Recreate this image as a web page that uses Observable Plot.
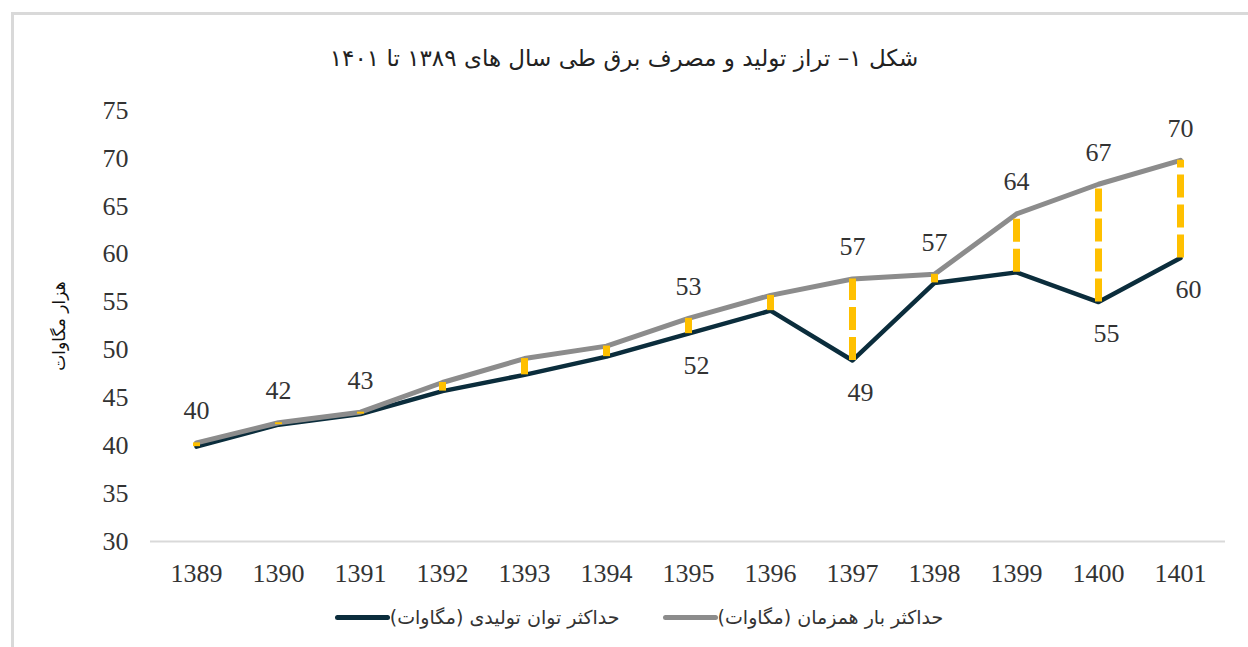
<!DOCTYPE html>
<html>
<head>
<meta charset="utf-8">
<script src="https://cdn.jsdelivr.net/npm/d3@7"></script>
<script src="https://cdn.jsdelivr.net/npm/@observablehq/plot@0.6"></script>
<style>
  html, body { margin: 0; padding: 0; background: #fff; overflow: hidden; }
  #frame { position: absolute; left: 11px; top: 12px; width: 1300px; height: 700px;
           border-left: 3px solid #d9d9d9; border-top: 3px solid #d9d9d9; pointer-events: none; }
  #title { padding-top: 40px; height: 36px; line-height: 36px; margin-bottom: 14px;
           text-align: center; font-family: "DejaVu Sans", sans-serif; font-size: 23px; color: #222; }
  #legend { height: 52px; display: flex; justify-content: center; align-items: center; gap: 43px;
            font-family: "DejaVu Sans", sans-serif; font-size: 19px; color: #333; padding-left: 30px; }
  .item { display: flex; align-items: center; }
  .sw { width: 55px; height: 5px; border-radius: 3px; }
  #chart svg text { font-family: "Liberation Serif", serif; }
</style>
</head>
<body>
<div id="frame"></div>
<div id="title" dir="rtl">شکل ۱– تراز تولید و مصرف برق طی سال های ۱۳۸۹ تا ۱۴۰۱</div>
<div id="chart"></div>
<div id="legend"></div>
<script>
const years = ["1389","1390","1391","1392","1393","1394","1395","1396","1397","1398","1399","1400","1401"];
const peakLoad =   [40.3, 42.4, 43.5, 46.6, 49.1, 50.4, 53.3, 55.7, 57.4, 57.9, 64.2, 67.3, 69.8];
const production = [39.9, 42.2, 43.3, 45.7, 47.4, 49.3, 51.7, 54.1, 48.9, 57.0, 58.1, 55.0, 59.6];
const loadLabelYears = ["1389","1390","1391","1395","1397","1398","1399","1400","1401"];
const loadLabelText  = ["40","42","43","53","57","57","64","67","70"];
const prodLabelYears = ["1395","1397","1400","1401"];
const prodLabelText  = ["52","49","55","60"];
const yTicks = [30,35,40,45,50,55,60,65,70,75];
const seriesNames = ["حداکثر توان تولیدی (مگاوات)", "حداکثر بار همزمان (مگاوات)"];
const seriesColors = ["#0b2d3c", "#8c8c8c"];

const rows = years.map((y, i) => ({year: y, load: peakLoad[i], prod: production[i]}));
const loadLabels = loadLabelYears.map((y, i) => ({year: y, value: peakLoad[years.indexOf(y)], text: loadLabelText[i]}));
const prodLabels = prodLabelYears.map((y, i) => ({year: y, value: production[years.indexOf(y)], text: prodLabelText[i]}));

const chart = Plot.plot({
  width: 1248,
  height: 501,
  marginLeft: 150,
  marginRight: 23,
  marginTop: 20,
  marginBottom: 50,
  style: { "font-family": "Liberation Serif, serif", "font-size": "26px", "color": "#333", "background": "transparent" },
  x: { type: "point", domain: years, padding: 0.5, label: null },
  y: { domain: [30, 75], label: null },
  marks: [
    Plot.axisY({ ticks: yTicks, tickSize: 0, tickPadding: 22, fontSize: 26, label: "هزار مگاوات",
                 labelAnchor: "center", labelOffset: 98, labelArrow: "none" }),
    Plot.axisX({ tickSize: 0, tickPadding: 22, fontSize: 26 }),
    Plot.ruleY([30], { stroke: "#d9d9d9", strokeWidth: 2 }),
    Plot.line(rows, { x: "year", y: "prod", stroke: seriesColors[0], strokeWidth: 4.5 }),
    Plot.line(rows, { x: "year", y: "load", stroke: seriesColors[1], strokeWidth: 5 }),
    Plot.ruleX(rows, { x: "year", y1: "prod", y2: "load", stroke: "#ffc000", strokeWidth: 7, strokeDasharray: "23,7" }),
    Plot.text(loadLabels, { x: "year", y: "value", text: "text", dy: -32, fill: "#333", fontSize: 26,
                            fontWeight: d => d.text === "42" ? "bold" : "normal" }),
    Plot.text(prodLabels, { x: "year", y: "value", text: "text", dy: 32, dx: 8, fill: "#333", fontSize: 26 })
  ]
});
// style y axis label
chart.querySelectorAll("g[aria-label='y-axis label'] text").forEach(t => {
  t.setAttribute("font-size", "17"); t.style.fontFamily = "DejaVu Sans, sans-serif"; t.setAttribute("fill", "#111");
});
document.getElementById("chart").appendChild(chart);

const legend = document.getElementById("legend");
seriesNames.forEach((name, i) => {
  const item = document.createElement("div");
  item.className = "item";
  const sw = document.createElement("div");
  sw.className = "sw";
  sw.style.background = seriesColors[i];
  const tx = document.createElement("span");
  tx.dir = "rtl";
  tx.textContent = name;
  item.appendChild(sw); item.appendChild(tx);
  legend.appendChild(item);
});
</script>
</body>
</html>
